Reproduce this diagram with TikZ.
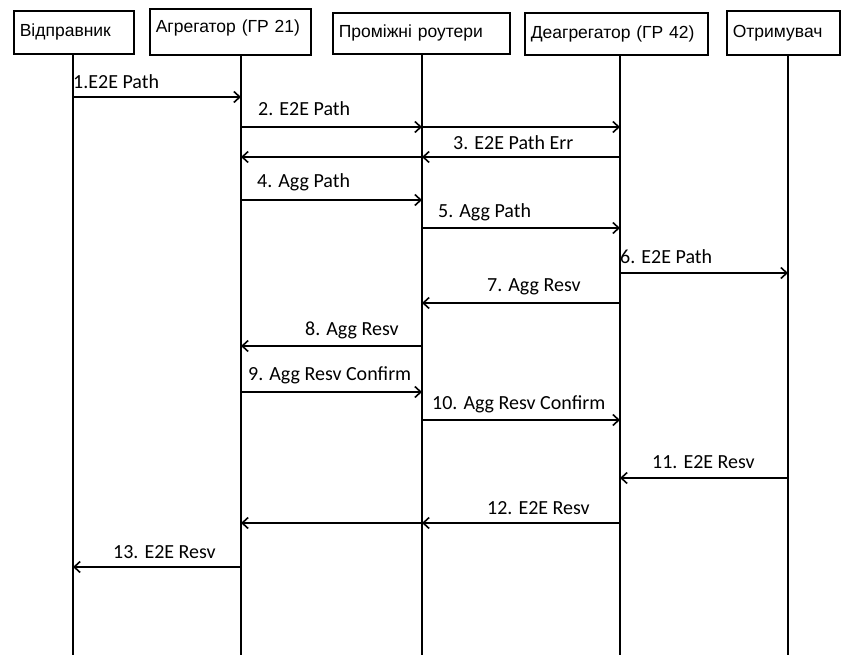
\documentclass[tikz,border=0pt]{standalone}
\usepackage{fontspec}
\setmainfont{Carlito}
\newfontfamily\hdrfont{Liberation Sans}
\usetikzlibrary{arrows.meta}

\begin{document}
\begin{tikzpicture}[x=1pt,y=-1pt,
  actor/.style={draw,line width=1.6pt,anchor=north west,inner xsep=6pt,inner ysep=0pt,
    align=left,font=\hdrfont\fontsize{17.5}{20}\selectfont},
  lifeline/.style={line width=1.6pt},
  msg/.style={line width=1.6pt,-{Straight Barb[length=6pt,width=11pt,line width=1.6pt]}},
  lbl/.style={anchor=west,inner sep=0pt,font=\fontsize{20}{24}\selectfont}]
\useasboundingbox (0,0) rectangle (841,655);
\node[actor,text width=108pt,minimum height=43pt] (sndbox) at (13,10) {Відправник};
\node[actor,text width=149pt,minimum height=46pt,text depth=11pt] (agrbox) at (149,8) {Агрегатор (ГР 21)};
\node[actor,text width=165pt,minimum height=41pt] (midbox) at (332,12) {Проміжні роутери};
\node[actor,text width=171pt,minimum height=42pt] (deagbox) at (524,12) {Деагрегатор (ГР 42)};
\node[actor,text width=101pt,minimum height=44pt] (rcvbox) at (726,10) {Отримувач};
\coordinate (snd) at (73,655);
\coordinate (agr) at (241,655);
\coordinate (mid) at (422,655);
\coordinate (deag) at (620,655);
\coordinate (rcv) at (788,655);
\foreach \b/\l in {sndbox/snd,agrbox/agr,midbox/mid,deagbox/deag,rcvbox/rcv}
  \draw[lifeline] (\l |- \b.south) -- (\l);
\foreach \i/\f/\t/\y in {1/snd/agr/97,2a/agr/mid/127,2b/mid/deag/127,3a/deag/mid/157,
    3b/mid/agr/157,4/agr/mid/200,5/mid/deag/228,6/deag/rcv/273,7/deag/mid/303,
    8/mid/agr/346,9/agr/mid/392,10/mid/deag/420,11/rcv/deag/478,12a/deag/mid/523,
    12b/mid/agr/523,13/agr/snd/567}
  \draw[msg] (\f |- 0,\y) coordinate (m\i s) -- (\t |- 0,\y) coordinate (m\i e);
\node[lbl] (t1) at (73,82) {1.E2E Path};
\node[lbl] (t2) at (258,109) {2. E2E Path};
\node[lbl] (t3) at (453,143) {3. E2E Path Err};
\node[lbl] (t4) at (257,182) {4. Agg Path};
\node[lbl] (t5) at (438,212) {5. Agg Path};
\node[lbl] (t6) at (620,257) {6. E2E Path};
\node[lbl] (t7) at (487,287) {7. Agg Resv};
\node[lbl] (t8) at (305,330) {8. Agg Resv};
\node[lbl] (t9) at (248,375) {9. Agg Resv Confirm};
\node[lbl] (t10) at (432,404) {10. Agg Resv Confirm};
\node[lbl] (t11) at (652,462) {11. E2E Resv};
\node[lbl] (t12) at (487,508) {12. E2E Resv};
\node[lbl] (t13) at (113,552) {13. E2E Resv};
\end{tikzpicture}
\end{document}
